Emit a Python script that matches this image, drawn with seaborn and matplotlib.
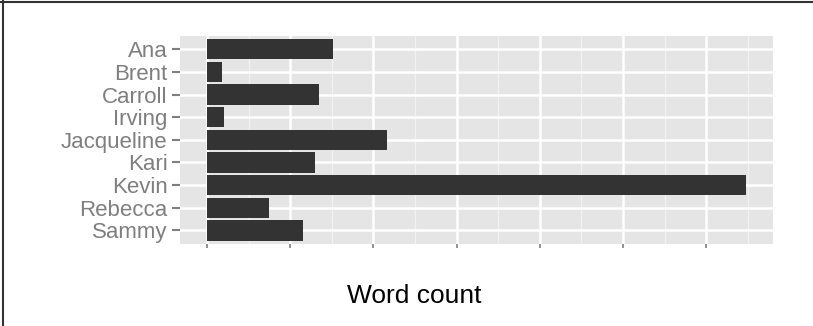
import matplotlib
matplotlib.use('Agg')
import matplotlib.pyplot as plt
from matplotlib.lines import Line2D
import seaborn as sns
import pandas as pd

names = ['Ana', 'Brent', 'Carroll', 'Irving', 'Jacqueline', 'Kari', 'Kevin', 'Rebecca', 'Sammy']
word_counts = [152, 18, 135, 20, 216, 130, 648, 74, 115]
major_ticks = [0, 100, 200, 300, 400, 500, 600]
minor_ticks = [50, 150, 250, 350, 450, 550, 650]

df = pd.DataFrame({'name': names, 'words': word_counts})

sns.set_style('white')
plt.rcParams['font.family'] = ['Liberation Sans', 'DejaVu Sans']

fig = plt.figure(figsize=(8.13, 3.26), dpi=100)
ax = fig.add_axes([180 / 813, 1 - 244 / 326, 593 / 813, (244 - 35.7) / 326])
ax.set_facecolor('#E5E5E5')

sns.barplot(data=df, x='words', y='name', orient='h', color='#333333',
            saturation=1, width=0.9, linewidth=0, edgecolor='none', ax=ax)

# grid below the bars (seaborn switches off the categorical grid, so set it again)
ax.set_axisbelow(True)
ax.set_xticks(major_ticks)
ax.set_xticks(minor_ticks, minor=True)
ax.xaxis.grid(True, which='major', color='white', linewidth=1.8)
ax.xaxis.grid(True, which='minor', color='#F2F2F2', linewidth=0.9)
ax.yaxis.grid(True, which='major', color='white', linewidth=1.8)

pad = 0.05 * max(word_counts)
ax.set_xlim(-pad, max(word_counts) + pad)
ax.set_ylim(len(names) - 1 + 0.6, -0.6)

for s in ax.spines.values():
    s.set_visible(False)

ax.set_xticklabels([''] * len(major_ticks))
ax.tick_params(axis='x', which='major', length=3, width=1.2, color='#7F7F7F', bottom=True)
ax.tick_params(axis='x', which='minor', length=0)
ax.tick_params(axis='y', length=6, width=1.5, color='#7F7F7F', labelcolor='#7F7F7F',
               labelsize=16, pad=3, left=True)
ax.set_xlabel('')
ax.set_ylabel('')

fig.text(414 / 813, 1 - 296 / 326, 'Word count', ha='center', va='center',
         fontsize=19, color='black')

# frame lines on the left and top of the image
fig.add_artist(Line2D([3 / 813, 3 / 813], [0, 1], transform=fig.transFigure,
                      color='#333333', linewidth=1.5))
fig.add_artist(Line2D([0, 1], [1 - 1.5 / 326, 1 - 1.5 / 326], transform=fig.transFigure,
                      color='#333333', linewidth=1.5))

fig.savefig('out.png', dpi=100)
